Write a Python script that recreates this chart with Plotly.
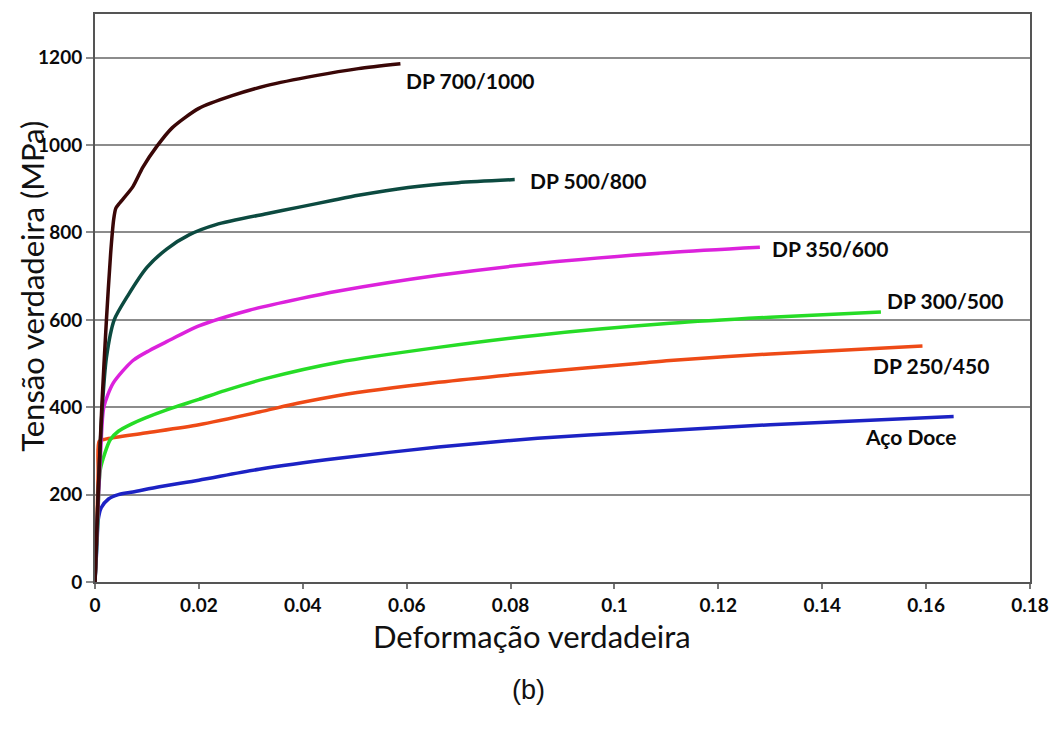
import plotly.graph_objects as go

# ---- data ----
dp700_x = [0, 0.0006, 0.0013, 0.0022, 0.003, 0.0036, 0.004, 0.0048, 0.0073, 0.0092, 0.0119, 0.0149, 0.020, 0.0264, 0.033, 0.0425, 0.0507, 0.0588]
dp700_y = [0, 200, 400, 600, 750, 830, 855, 868, 905, 949, 997, 1040, 1084, 1113, 1136, 1159, 1175, 1186]

dp500_x = [0, 0.0006, 0.0014, 0.0022, 0.0037, 0.0063, 0.0100, 0.0138, 0.0182, 0.0233, 0.033, 0.0393, 0.0456, 0.0507, 0.0603, 0.0699, 0.0808]
dp500_y = [0, 200, 400, 514, 600, 655, 720, 762, 795, 818, 843, 858, 873, 885, 903, 914, 921]

dp350_x = [0, 0.0005, 0.0011, 0.0017, 0.0035, 0.0073, 0.0105, 0.0138, 0.020, 0.0297, 0.0393, 0.0469, 0.0661, 0.0852, 0.1107, 0.128]
dp350_y = [0, 150, 300, 400, 455, 507, 530, 550, 586, 622, 648, 666, 702, 729, 754, 766]

dp300_x = [0, 0.0005, 0.001, 0.0019, 0.0029, 0.0045, 0.0073, 0.0096, 0.0138, 0.020, 0.025, 0.033, 0.0469, 0.0661, 0.0852, 0.1107, 0.13, 0.1513]
dp300_y = [0, 130, 256, 295, 325, 345, 363, 375, 394, 418, 438, 466, 503, 537, 565, 592, 606, 618]

dp250_x = [0, 0.0003, 0.0006, 0.0008, 0.002, 0.0096, 0.020, 0.0316, 0.039, 0.0469, 0.0661, 0.0852, 0.1044, 0.1107, 0.13, 0.1593]
dp250_y = [0, 100, 250, 322, 327, 341, 360, 389, 409, 427, 457, 480, 500, 507, 522, 540]

aco_x = [0, 0.0004, 0.0006, 0.0012, 0.0026, 0.0045, 0.0073, 0.0124, 0.020, 0.0316, 0.0469, 0.0661, 0.0852, 0.1044, 0.13, 0.1653]
aco_y = [0, 90, 141, 170, 190, 200, 206, 218, 233, 258, 283, 309, 329, 343, 360, 379]

series_names = ["Aço Doce", "DP 250/450", "DP 300/500", "DP 350/600", "DP 500/800", "DP 700/1000"]
series_colors = ["#1c22c4", "#ee4a16", "#26dc26", "#dc22dc", "#0c4a40", "#3a0707"]
series_x = [aco_x, dp250_x, dp300_x, dp350_x, dp500_x, dp700_x]
series_y = [aco_y, dp250_y, dp300_y, dp350_y, dp500_y, dp700_y]

# label anchor points (left edge, vertical middle) in data units
label_x = [0.1478, 0.1494, 0.152, 0.130, 0.0833, 0.0594]
label_y = [334, 496, 645, 763, 919, 1147]

x_ticks = [0, 0.02, 0.04, 0.06, 0.08, 0.1, 0.12, 0.14, 0.16, 0.18]
x_ticktext = ["0", "0.02", "0.04", "0.06", "0.08", "0.1", "0.12", "0.14", "0.16", "0.18"]
y_ticks = [0, 200, 400, 600, 800, 1000, 1200]

fig = go.Figure()
for name, col, xs, ys in zip(series_names, series_colors, series_x, series_y):
    fig.add_trace(go.Scatter(x=xs, y=ys, mode="lines", name=name,
                             line=dict(color=col, width=3.5, shape="spline", smoothing=0.7),
                             showlegend=False))

for name, lx, ly in zip(series_names, label_x, label_y):
    fig.add_annotation(x=lx, y=ly, xref="x", yref="y", text=name, showarrow=False,
                       xanchor="left", yanchor="middle",
                       font=dict(family="Lato", size=21, color="#0a0a0a", weight="bold"))

# axis titles and panel tag
fig.add_annotation(x=(534 - 95) / 939, y=(582 - 636) / 569, xref="paper", yref="paper",
                   text="Deformação verdadeira", showarrow=False, xanchor="center", yanchor="middle",
                   font=dict(family="Lato", size=31, color="#111111"))
fig.add_annotation(x=(31 - 95) / 939, y=(582 - 286) / 569, xref="paper", yref="paper",
                   text="Tensão verdadeira (MPa)", showarrow=False, textangle=-90,
                   xanchor="center", yanchor="middle",
                   font=dict(family="Lato", size=31, color="#111111"))
fig.add_annotation(x=(530 - 95) / 939, y=(582 - 690) / 569, xref="paper", yref="paper",
                   text="(b)", showarrow=False, xanchor="center", yanchor="middle",
                   font=dict(family="Liberation Sans", size=27, color="#111111"))

fig.update_layout(
    width=1061, height=734,
    margin=dict(l=95, r=27, t=13, b=152),
    paper_bgcolor="white", plot_bgcolor="white",
    font=dict(family="Lato", color="#111111"),
    xaxis=dict(range=[0, 0.18], tickvals=x_ticks, ticktext=x_ticktext,
               showgrid=False, zeroline=False,
               showline=True, linecolor="#555555", linewidth=2, mirror=True,
               ticks="outside", ticklen=5, tickwidth=1.5, tickcolor="#777777",
               tickfont=dict(family="Lato", size=19, color="#0a0a0a", weight="bold")),
    yaxis=dict(range=[0, 1300], tickvals=y_ticks,
               showgrid=True, gridcolor="#8c8c8c", gridwidth=2, zeroline=False,
               showline=True, linecolor="#555555", linewidth=2, mirror=True,
               ticks="outside", ticklen=7, tickwidth=2, tickcolor="#8c8c8c",
               tickfont=dict(family="Lato", size=19, color="#0a0a0a", weight="bold")),
)

fig.write_html("out.html")
